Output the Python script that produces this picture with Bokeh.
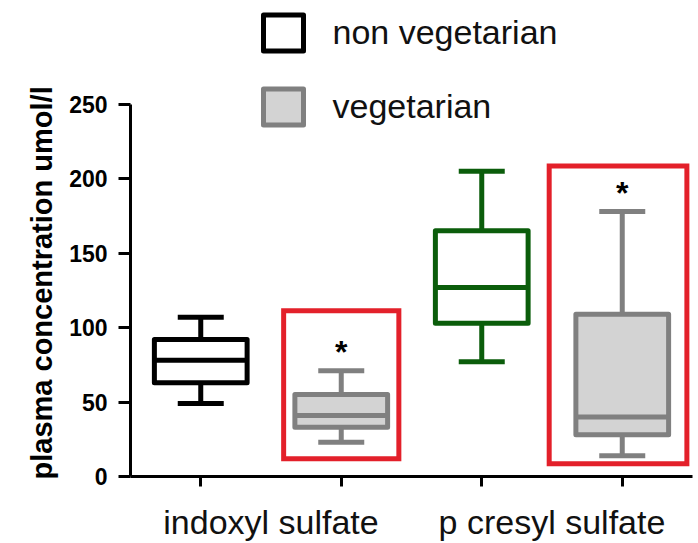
import math
from bokeh.plotting import figure
from bokeh.models import (FactorRange, Range1d, FixedTicker, Title, Legend,
                          LegendItem, ColumnDataSource)
from bokeh.core.properties import value
from bokeh.embed import file_html
from bokeh.resources import INLINE

# ---------------- data ----------------
categories = ["indoxyl sulfate", "p cresyl sulfate"]
groups = ["non vegetarian", "vegetarian"]

nonveg_min = [49, 77]
nonveg_q1 = [63, 103]
nonveg_median = [78, 127]
nonveg_q3 = [92, 165]
nonveg_max = [107, 205]
nonveg_colors = ["#000000", "#0b5d0b"]

veg_min = [23, 14]
veg_q1 = [33, 28]
veg_median = [41, 40]
veg_q3 = [55, 109]
veg_max = [71, 178]

y_ticks = [0, 50, 100, 150, 200, 250]

FONT = value("Liberation Sans")
GRAY = "#808080"
LIGHT = "#d3d3d3"
RED = "#e3202a"

factors = [(c, g) for c in categories for g in groups]

p = figure(width=698, height=543, output_backend="svg", toolbar_location=None,
           x_range=FactorRange(factors=factors, group_padding=0, factor_padding=0,
                               subgroup_padding=0, range_padding=0),
           y_range=Range1d(0, 477 / 1.492),
           min_border_left=130, min_border_right=6, min_border_top=0,
           min_border_bottom=66)
p.xgrid.visible = False
p.ygrid.visible = False
p.outline_line_color = None
p.background_fill_color = "white"
p.border_fill_color = "white"

nv = ColumnDataSource(dict(x=[(c, groups[0]) for c in categories],
                           lo=nonveg_min, q1=nonveg_q1, med=nonveg_median,
                           q3=nonveg_q3, hi=nonveg_max, color=nonveg_colors))
vg = ColumnDataSource(dict(x=[(c, groups[1]) for c in categories],
                           lo=veg_min, q1=veg_q1, med=veg_median,
                           q3=veg_q3, hi=veg_max,
                           star=[m + 17 for m in veg_max]))

LW = 5
BOXW = 0.66
for src, lc in ((nv, "color"), (vg, GRAY)):
    p.segment(x0="x", y0="q3", x1="x", y1="hi", source=src, line_color=lc, line_width=LW)
    p.segment(x0="x", y0="q1", x1="x", y1="lo", source=src, line_color=lc, line_width=LW)

r_nv = p.vbar(x="x", top="q3", bottom="q1", width=BOXW, source=nv,
              fill_color="white", line_color="color", line_width=LW, line_join="round")
r_vg = p.vbar(x="x", top="q3", bottom="q1", width=BOXW, source=vg,
              fill_color=LIGHT, line_color=GRAY, line_width=LW, line_join="round")

for src, lc in ((nv, "color"), (vg, GRAY)):
    p.scatter(x="x", y="med", source=src, marker="dash", size=92,
              line_color=lc, line_width=LW)
    p.scatter(x="x", y="hi", source=src, marker="dash", size=46,
              line_color=lc, line_width=LW)
    p.scatter(x="x", y="lo", source=src, marker="dash", size=46,
              line_color=lc, line_width=LW)

# significance stars
p.text(x="x", y="star", text=value("*"), source=vg, text_font=FONT,
       text_font_style="bold", text_font_size="32px", text_align="center",
       text_baseline="middle", y_offset=7, text_color="black")

# red highlight frames around the vegetarian boxes
hl = ColumnDataSource(dict(
    left=[(categories[0], groups[1], -0.41), (categories[1], groups[1], -0.52)],
    right=[(categories[0], groups[1], 0.41), (categories[1], groups[1], 0.46)],
    bottom=[11.9, 8.6], top=[111.4, 208.6]))
p.quad(left="left", right="right", bottom="bottom", top="top", source=hl,
       fill_color=None, line_color=RED, line_width=LW, line_join="miter")

# axes
ya = p.yaxis[0]
ya.bounds = (0, 250)
ya.ticker = FixedTicker(ticks=y_ticks)
ya.minor_tick_line_color = None
ya.major_tick_in = 0
ya.major_tick_out = 12
ya.major_tick_line_width = 3
ya.axis_line_width = 3
ya.axis_line_color = "black"
ya.major_tick_line_color = "black"
ya.major_label_standoff = 11
ya.major_label_text_font = "Liberation Sans"
ya.major_label_text_font_style = "bold"
ya.major_label_text_font_size = "23px"
ya.major_label_text_color = "black"

xa = p.xaxis[0]
xa.axis_line_width = 3
xa.axis_line_color = "black"
xa.major_tick_in = 0
xa.major_tick_out = 10
xa.major_tick_line_width = 3
xa.major_tick_line_color = "black"
xa.major_label_text_font_size = "1px"
xa.major_label_text_color = None
xa.major_label_standoff = 16
xa.separator_line_color = None
xa.group_text_font = "Liberation Sans"
xa.group_text_font_size = "34px"
xa.group_text_font_style = "normal"
xa.group_text_color = "#111111"
xa.group_label_orientation = "horizontal"

ylab = Title(text="plasma concentration umol/l", align="left", offset=-3,
             text_font="Liberation Sans", text_font_style="bold",
             text_font_size="29px", text_color="black", standoff=18)
p.add_layout(ylab, "left")

legend = Legend(items=[LegendItem(label=groups[0], renderers=[r_nv], index=0),
                       LegendItem(label=groups[1], renderers=[r_vg], index=0)],
                location=(127.5, 347), orientation="vertical",
                padding=0, margin=0, spacing=29,
                glyph_width=50, glyph_height=45, label_standoff=25,
                label_text_font="Liberation Sans", label_text_font_size="34px",
                label_text_color="#111111",
                border_line_color=None, background_fill_alpha=0)
p.add_layout(legend, "center")

open("out.html", "w").write(file_html(p, INLINE))
